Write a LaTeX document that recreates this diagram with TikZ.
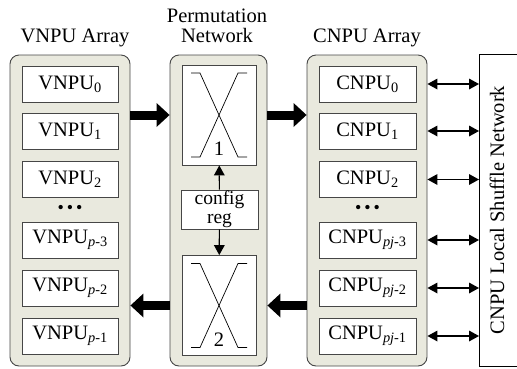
\documentclass[tikz,border=0pt]{standalone}
\usepackage{fontspec}
\setmainfont{Liberation Serif}
\usetikzlibrary{arrows.meta,positioning}
\definecolor{panelfill}{RGB}{233,233,222}
\definecolor{edge}{RGB}{70,70,70}
\begin{document}
\begin{tikzpicture}[x=1pt,y=-1pt,
  txt/.style={font=\fontsize{20.5}{20}\selectfont},
  panel/.style={draw=edge,fill=panelfill,line width=0.9pt,rounded corners=9pt,minimum width=120pt,minimum height=311pt},
  unit/.style={txt,draw=edge,fill=white,line width=0.9pt,inner sep=0pt,minimum width=96pt,minimum height=36pt},
  perm/.style={draw=edge,fill=white,line width=0.9pt,minimum width=74pt,minimum height=100pt},
  fat/.style={line width=9pt,-{Triangle[length=13pt,width=24pt,line width=0pt]}},
  ctl/.style={line width=1.2pt,-{Triangle[length=10pt,width=11pt,line width=0pt]}},
  dbl/.style={line width=1.2pt,{Triangle[length=10pt,width=11pt,line width=0pt]}-{Triangle[length=10pt,width=11pt,line width=0pt]}},
  gap/.style={font=\fontsize{18}{18}\selectfont,inner sep=1pt}]
  \clip (0,0) rectangle (517,368);
  % the three columns
  \node[panel] (varr) at (70,210.5) {};
  \node[panel,minimum width=97pt] (parr) at (218.5,210.5) {};
  \node[panel] (carr) at (367,210.5) {};
  \node[txt] (vtitle) at (75,38) {VNPU Array};
  \node[txt,align=center] (ptitle) at (217,26) {Permutation\\Network};
  \node[txt] (ctitle) at (367,38) {CNPU Array};
  \foreach \n/\y/\a/\b in {0/84/0/0, 1/131/1/1, 2/179.5/2/2,
      3/240/{\textit{p}-3}/{\textit{pj}-3}, 4/288/{\textit{p}-2}/{\textit{pj}-2},
      5/336/{\textit{p}-1}/{\textit{pj}-1}}{
    \node[unit] (v\n) at (70,\y) {VNPU\textsubscript{\a}};
    \node[unit,minimum width=97pt] (c\n) at (367.5,\y) {CNPU\textsubscript{\b}};
  }
  \node[gap] (vdots) at (70,209) {\textbullet\,\textbullet\,\textbullet};
  \node[gap] (cdots) at (367.5,209) {\textbullet\,\textbullet\,\textbullet};
  % permutation stages and their config register
  \node[perm] (p1) at (219,115) {};
  \node[perm] (p2) at (219,305.5) {};
  \node[txt,draw=edge,fill=white,line width=0.9pt,align=center,inner sep=0pt,
    minimum width=77pt,minimum height=39pt,font=\fontsize{19.5}{19}\selectfont] (cfg) at (219.5,209.5) {config\\reg};
  \foreach \s/\k in {p1/1,p2/2}{
    \begin{scope}[shift={(\s.center)},line width=0.7pt]
      \draw (-28,-42) -- (-19,-42) -- (19,42) -- (28,42);
      \draw (28,-42) -- (19,-42) -- (-19,42) -- (-28,42);
      \node[txt] (\s lbl) at (0,34) {\k};
    \end{scope}
  }
  \draw[ctl] (cfg) -- (p1);
  \draw[ctl] (cfg) -- (p2);
  % data paths
  \draw[fat] (varr.east |- p1) -- (parr.west |- p1);
  \draw[fat] (parr.east |- p1) -- (carr.west |- p1);
  \draw[fat] (carr.west |- p2) -- (parr.east |- p2);
  \draw[fat] (parr.west |- p2) -- (varr.east |- p2);
  % shuffle network on the right
  \node[draw,fill=white,line width=0.9pt,anchor=north west,minimum width=60pt,minimum height=312pt] (shuf) at (479,54) {};
  \node[txt,rotate=90] (shuftxt) at (497,210) {CNPU Local Shuffle Network};
  \foreach \n in {0,...,5}
    \draw[dbl] (carr.east |- c\n) -- (shuf.west |- c\n);
\end{tikzpicture}
\end{document}
